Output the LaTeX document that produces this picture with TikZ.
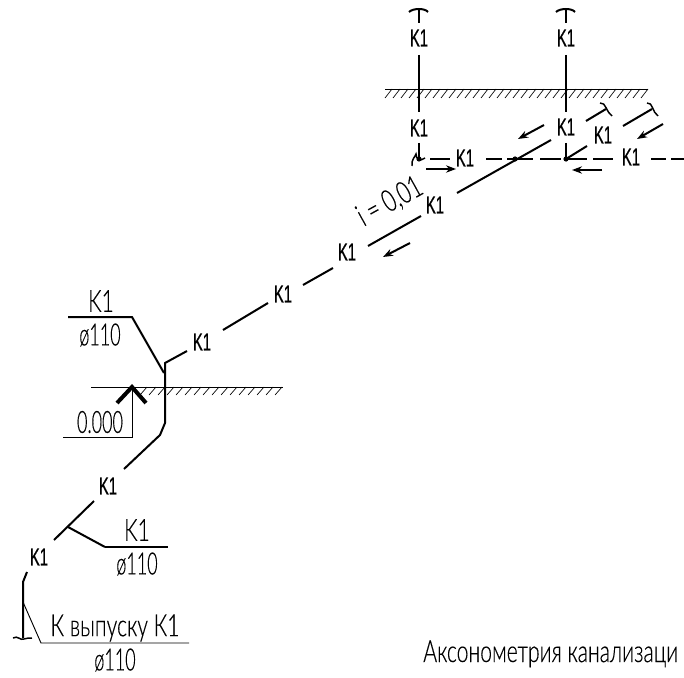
\documentclass[tikz,border=0pt]{standalone}
\usepackage{fontspec}
\usetikzlibrary{arrows.meta}
\newfontfamily\markfont[FakeStretch=0.6,FakeBold=0.6]{Liberation Sans}
\newfontfamily\thinfont[FakeStretch=0.69,FakeBold=0.25]{Lato Light}
\tikzset{
    pipe/.style={line width=1.5pt},
    thinline/.style={line width=0.7pt},
    flow/.style={line width=1.5pt,-{Stealth[length=7.5pt,width=5.5pt]}},
    pipemark/.style={inner sep=0pt,font=\markfont\fontsize{18.5}{18.5}\selectfont},
    caption/.style={inner sep=0pt,font=\thinfont\fontsize{23}{23}\selectfont},
    numeral/.style={caption,xscale=0.85},
}
\begin{document}
\begin{tikzpicture}[x=0.75pt,y=-0.75pt]
    \useasboundingbox (0,0) rectangle (684,677);
    \foreach \hx in {392,400,...,648}
        \draw[line width=0.5pt] (\hx,89) -- (\hx-7,98);
    \foreach \hx in {147,156,...,283}
        \draw[line width=0.5pt] (\hx,387) -- (\hx-7,395);
    \coordinate (topL) at (385,89);
    \coordinate (topR) at (648,89);
    \coordinate (groundL) at (91,387);
    \coordinate (groundR) at (283,387);
    \draw[thinline] (topL) -- (topR);
    \draw[thinline] (groundL) -- (groundR);
    % risers
    \node[pipemark] (k1a) at (419,38) {K1};
    \node[pipemark] (k1b) at (566,38) {K1};
    \node[pipemark] (k1c) at (419,128) {K1};
    \node[pipemark] (k1d) at (566,127) {K1};
    \coordinate (ventA) at (419,10);
    \coordinate (ventB) at (566,10);
    \coordinate (ventAend) at (419,23);
    \coordinate (ventBend) at (566,23);
    \coordinate (riserAtop) at (419,55);
    \coordinate (riserAbot) at (419,112);
    \coordinate (riserBtop) at (566,55);
    \coordinate (riserBbot) at (566,112);
    \coordinate (stubA) at (419,143);
    \coordinate (stubB) at (566,143);
    \coordinate (dotA) at (419,159);
    \coordinate (dotB) at (566,159);
    \draw[pipe] (ventA) -- (ventAend);
    \draw[pipe] (ventB) -- (ventBend);
    \draw[pipe] (409,12) .. controls (413,8) and (425,8) .. (428,12);
    \draw[pipe] (556,12) .. controls (560,8) and (572,8) .. (575,12);
    \draw[pipe] (riserAtop) -- (riserAbot);
    \draw[pipe] (riserBtop) -- (riserBbot);
    \draw[pipe] (stubA) -- (dotA);
    \draw[pipe] (stubB) -- (dotB);
    \fill (dotA) circle (2.6);
    \fill (dotB) circle (2.6);
    \draw[line width=1.1pt] (412,166) .. controls (411,160) and (415,157) .. (416,154) .. controls (416,159) and (420,162) .. (425,158);
    % dashed run
    \node[pipemark] (k1e) at (465,158) {K1};
    \node[pipemark] (k1f) at (631,157) {K1};
    \foreach \ax/\bx in {430/450,486/502,507/533,540/561,566/587,593/613,651/666,671/684}
        \draw[pipe] (\ax,159) -- (\bx,159);
    \fill (515,159) circle (2.6);
    % branches on the right
    \node[pipemark] (k1g) at (603,135) {K1};
    \coordinate (branchA) at (587,146);
    \coordinate (branchB) at (586,121);
    \coordinate (branchBend) at (606,109);
    \coordinate (branchC) at (623,126);
    \coordinate (branchCend) at (652,109);
    \draw[pipe] (dotB) -- (branchA);
    \draw[pipe] (branchB) -- (branchBend);
    \draw[pipe] (branchC) -- (branchCend);
    \draw[line width=1.1pt] (600,103) .. controls (606,102) and (606,112) .. (612,116);
    \draw[line width=1.1pt] (647,103) .. controls (653,102) and (652,112) .. (658,116);
    % main run
    \node[pipemark] (k1h) at (435,205) {K1};
    \node[pipemark] (k1i) at (347,252) {K1};
    \node[pipemark] (k1j) at (283,294) {K1};
    \node[pipemark] (k1k) at (202,342) {K1};
    \node[pipemark] (k1l) at (108,486) {K1};
    \node[pipemark] (k1m) at (39,557) {K1};
    \coordinate (runA) at (551,140);
    \coordinate (runB) at (457,193);
    \coordinate (runC) at (421,216);
    \coordinate (runD) at (368,246);
    \coordinate (runE) at (333,268);
    \coordinate (runF) at (303,285);
    \coordinate (runG) at (268,303);
    \coordinate (runH) at (223,330);
    \coordinate (runI) at (187,351);
    \coordinate (bendA) at (165,363);
    \coordinate (bendB) at (165,423);
    \coordinate (bendC) at (160,435);
    \coordinate (bendD) at (124,469);
    \coordinate (runJ) at (94,501);
    \coordinate (runK) at (54,540);
    \coordinate (tee) at (68,527);
    \coordinate (teeB) at (105,547);
    \coordinate (teeC) at (168,547);
    \coordinate (outA) at (27,572);
    \coordinate (outB) at (23,582);
    \coordinate (outC) at (23,638);
    \draw[pipe] (runA) -- (runB);
    \draw[pipe] (runC) -- (runD);
    \draw[pipe] (runE) -- (runF);
    \draw[pipe] (runG) -- (runH);
    \draw[pipe] (runI) -- (bendA) -- (bendB) -- (bendC) -- (bendD);
    \draw[pipe] (runJ) -- (runK);
    \draw[pipe] (tee) -- (teeB);
    \draw[pipe] (outA) -- (outB) -- (outC);
    \draw[line width=1.1pt] (13,638) .. controls (18,635) and (20,641) .. (24,639) .. controls (27,638) and (29,638) .. (32,638);
    \draw[pipe] (teeB) -- (teeC);
    % flow arrows
    \draw[flow] (544,125) -- (518,139);
    \draw[flow] (663,124) -- (637,139);
    \draw[flow] (426,169) -- (456,169);
    \draw[flow] (602,170) -- (572,170);
    \draw[flow] (410,243) -- (383,257);
    \node[caption,rotate=29] (slope) at (390,202) {i = 0,01};
    % leaders
    \node[caption] (k1top) at (101,301) {K1};
    \node[numeral] (dn1) at (100,335) {ø110};
    \coordinate (leadA) at (68,317);
    \coordinate (leadB) at (132,317);
    \coordinate (leadC) at (164,373);
    \draw[pipe] (leadA) -- (leadB) -- (leadC);
    \node[caption] (k1mid) at (137,530) {K1};
    \node[numeral] (dn2) at (137,564) {ø110};
    \node[caption] (outlet) at (115,628) {К выпуску К1};
    \node[numeral] (dn3) at (115,660) {ø110};
    \coordinate (leadD) at (23,602);
    \coordinate (leadE) at (41,643);
    \coordinate (leadF) at (189,643);
    \draw[thinline] (leadD) -- (leadE) -- (leadF);
    % level mark
    \node[numeral] (level) at (100,422) {0.000};
    \coordinate (levelTip) at (132,387);
    \coordinate (levelL) at (117,403);
    \coordinate (levelR) at (146,403);
    \coordinate (levelB) at (132,437);
    \coordinate (levelE) at (63,437);
    \draw[line width=3pt] (levelL) -- (levelTip) -- (levelR);
    \draw[thinline] (levelTip) -- (levelB) -- (levelE);
    \node[caption,anchor=base west] (title) at (423,662) {Аксонометрия канализаци};
\end{tikzpicture}
\end{document}
